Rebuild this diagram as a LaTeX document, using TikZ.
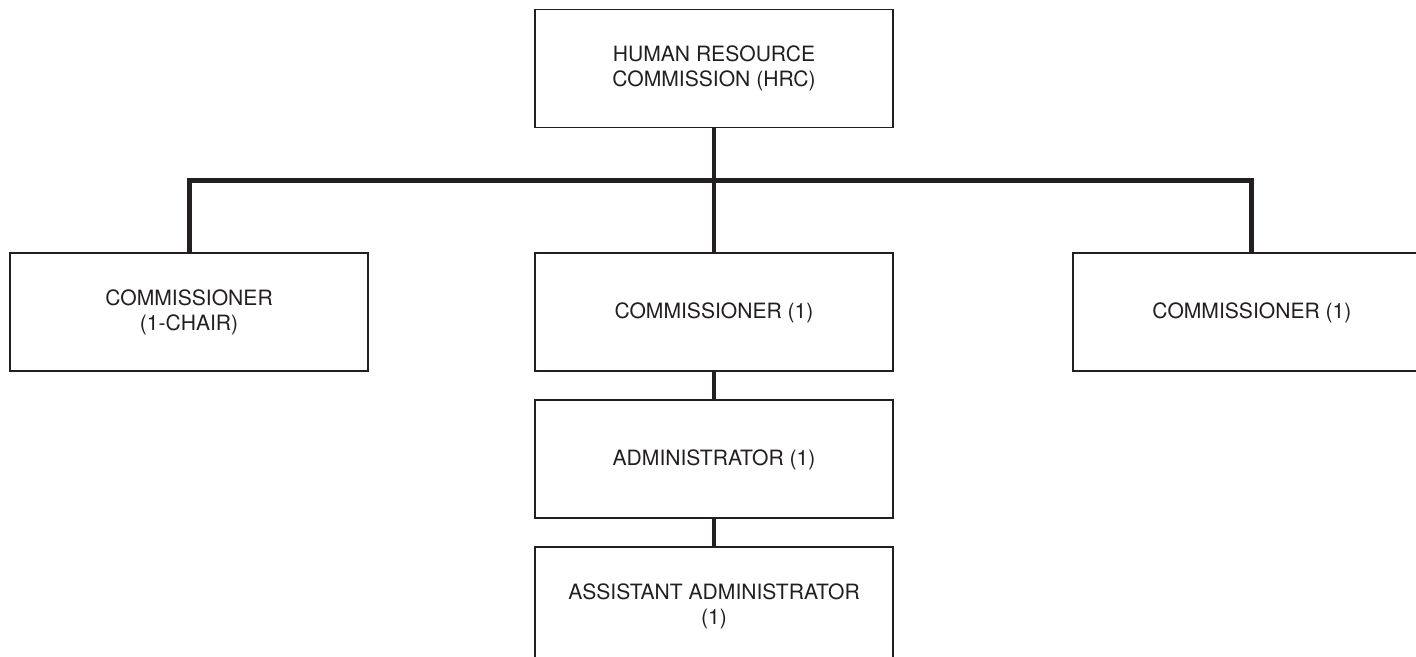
\documentclass[tikz,border=0pt]{standalone}
\usepackage{fontspec}
\setmainfont{TeX Gyre Heros}
\usetikzlibrary{positioning}
\definecolor{orgink}{RGB}{35,31,32}

\begin{document}
\begin{tikzpicture}[node distance=0.54cm and 3.3cm,
    post/.style={rectangle,draw=orgink,line width=1.1pt,minimum width=7.16cm,
      minimum height=2.36cm,inner sep=0pt,align=center,text=orgink,
      font=\fontsize{12}{14.2}\selectfont},
    link/.style={orgink,line width=2.8pt}]
    \useasboundingbox (0,0) rectangle (28.32,-13.14);
    \node[post] (hrc) at (14.28,-1.37) {HUMAN RESOURCE\\COMMISSION (HRC)};
    \node[post,below=2.48cm of hrc] (com) {COMMISSIONER (1)};
    \node[post,left=3.3cm of com] (chair) {COMMISSIONER\\(1-CHAIR)};
    \node[post,right=3.56cm of com] (comr) {COMMISSIONER (1)};
    \node[post,below=of com] (admin) {ADMINISTRATOR (1)};
    \node[post,below=of admin] (asst) {ASSISTANT ADMINISTRATOR\\(1)};
    % bus line under the commission
    \coordinate[below=1.04cm of hrc.south] (bar);
    \draw[link] (hrc) -- (com);
    \draw[link] (chair) |- (bar) -| (comr);
    \draw[link] (com) -- (admin);
    \draw[link] (admin) -- (asst);
\end{tikzpicture}
\end{document}
